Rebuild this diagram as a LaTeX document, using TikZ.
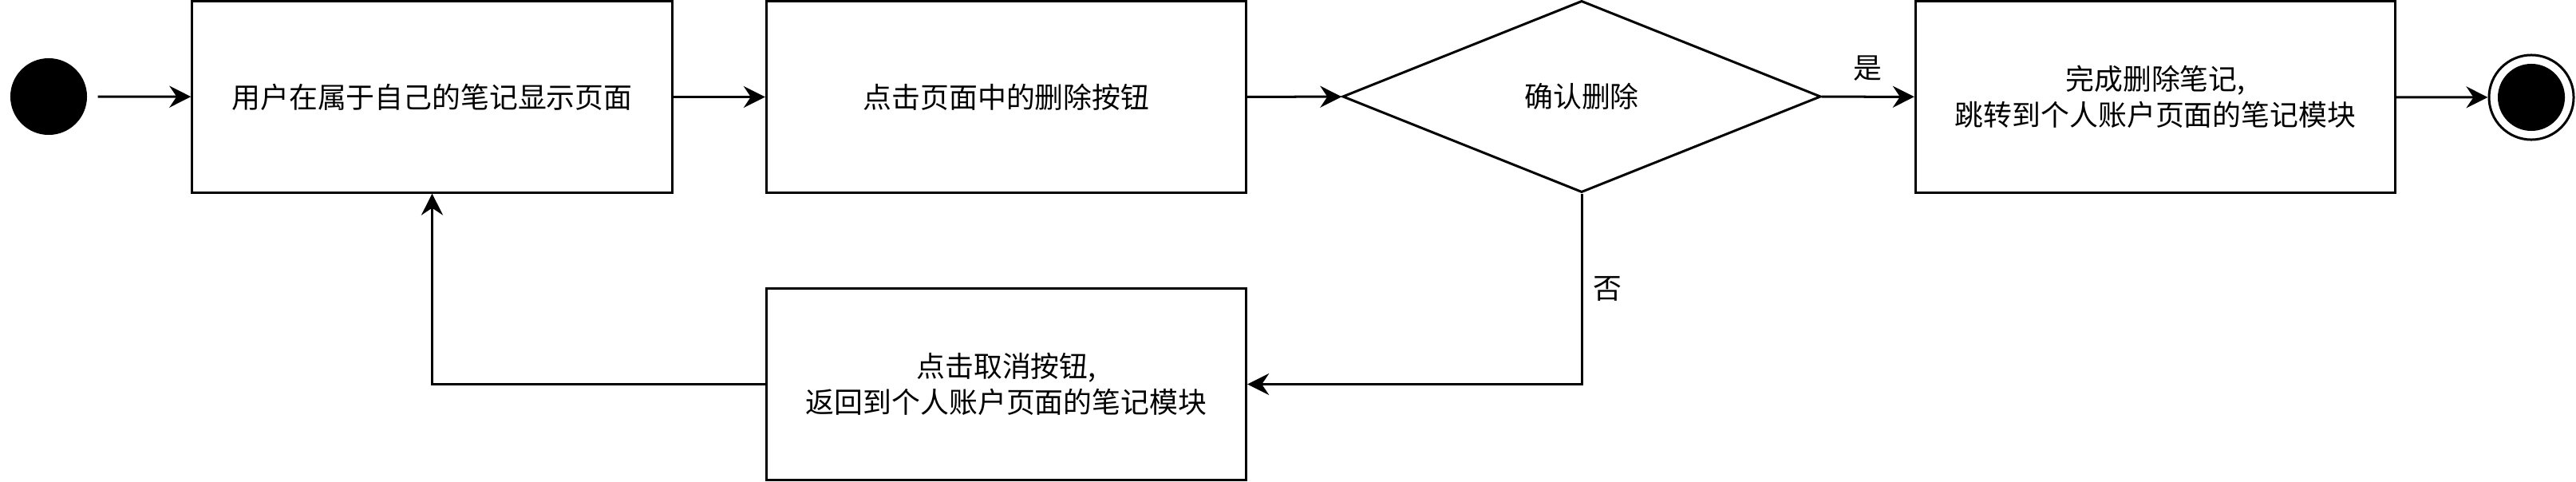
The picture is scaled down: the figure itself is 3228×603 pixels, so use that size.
\documentclass[tikz,border=0pt]{standalone}
\usepackage{fontspec}
\newfontfamily\cjk{Noto Sans CJK SC}
\usetikzlibrary{shapes.geometric,arrows.meta}
\begin{document}
\begin{tikzpicture}[x=0.01cm,y=-0.01cm,
  every node/.style={font=\cjk\fontsize{10.2pt}{12.8pt}\selectfont},
  box/.style={draw,line width=0.03cm,minimum width=6.01cm,minimum height=2.39cm,inner sep=0pt,align=center},
  decbox/.style={draw,diamond,line width=0.03cm,minimum width=5.99cm,minimum height=2.40cm,inner sep=0pt,align=center},
  arr/.style={line width=0.03cm,-{Stealth[length=0.27cm,width=0.27cm,inset=0.09cm]}},
  lbl/.style={inner sep=0pt}]
\useasboundingbox (0,0) rectangle (3228,603);
\node[circle,fill=black,minimum size=0.96cm,inner sep=0pt] (start) at (61,121) {};
\node[box] (b1) at (541.5,121.5) {用户在属于自己的笔记显示页面};
\node[box] (b2) at (1261,121.5) {点击页面中的删除按钮};
\node[decbox] (dec) at (1982,121) {确认删除};
\node[box] (b3) at (2701,121.5) {完成删除笔记,\\跳转到个人账户页面的笔记模块};
\node[box] (b4) at (1261,481.5) {点击取消按钮,\\返回到个人账户页面的笔记模块};
\node[circle,draw,line width=0.03cm,fill=white,minimum size=1.06cm,inner sep=0pt] (endo) at (3172,122) {};
\node[circle,fill=black,minimum size=0.84cm,inner sep=0pt] (endi) at (3172,122) {};
\draw[arr,shorten <=0.13cm] (start) -- (b1);
\draw[arr] (b1) -- (b2);
\draw[arr] (b2) -- (dec);
\draw[arr] (dec) -- node[lbl,yshift=0.36cm] (yes) {是} (b3);
\draw[arr] (b3) -- (endo);
\coordinate (corner) at (dec.south |- b4.east);
\draw[arr] (dec.south) -- node[lbl,xshift=0.32cm] (no) {否} (corner) -- (b4.east);
\draw[arr] (b4.west) -| (b1.south);
\end{tikzpicture}
\end{document}
